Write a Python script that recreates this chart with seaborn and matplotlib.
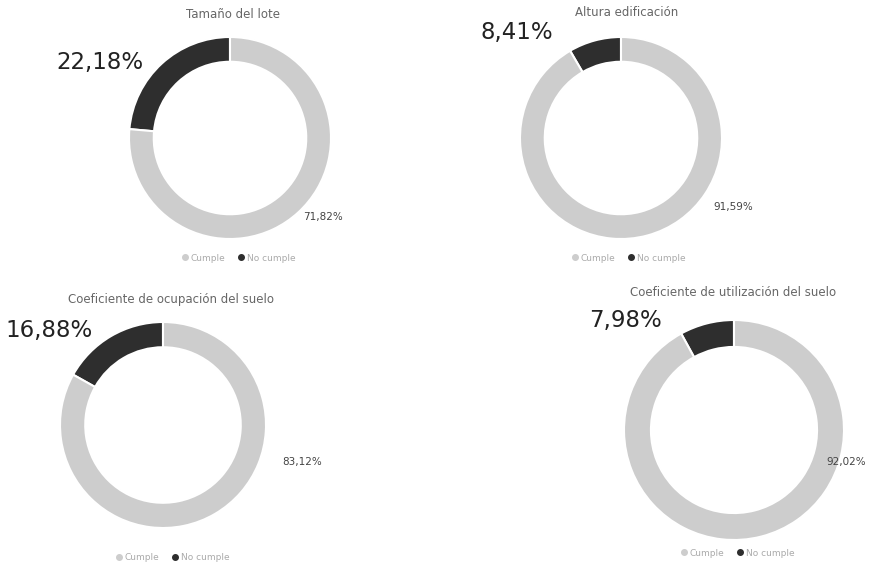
import matplotlib
matplotlib.use("Agg")
import matplotlib.pyplot as plt
from matplotlib.lines import Line2D
import seaborn as sns

# ---- data ----
titles = ["Tamaño del lote", "Altura edificación",
          "Coeficiente de ocupación del suelo", "Coeficiente de utilización del suelo"]
categories = ["Cumple", "No cumple"]
no_cumple = [22.18, 8.41, 16.88, 7.98]
cumple = [71.82, 91.59, 83.12, 92.02]
no_cumple_labels = ["22,18%", "8,41%", "16,88%", "7,98%"]
cumple_labels = ["71,82%", "91,59%", "83,12%", "92,02%"]

# ---- style ----
sns.set_theme(style="white")
plt.rcParams['font.family'] = ['DejaVu Sans']
dark, light = "#2e2e2e", "#cdcdcd"

W, H = 876, 569
fig = plt.figure(figsize=(W / 100, H / 100), dpi=100)
fig.patch.set_facecolor("white")

def fx(x):
    return x / W

def fy(y):
    return 1 - y / H

# layout (pixel positions, from top-left)
centers = [(230, 138), (621, 138), (163, 425), (734, 430)]
radii = [101, 101, 103, 110]
title_pos = [(233, 15), (627, 12), (171, 300), (733, 293)]
big_pos = [(143, 62), (553, 33), (93, 331), (662, 320)]
small_pos = [(343, 217), (753, 207), (322, 462), (866, 462)]
legend_pos = [(238, 258), (628, 258), (172, 558), (737, 553)]

for i in range(4):
    cx, cy = centers[i]
    r = radii[i]
    ax = fig.add_axes([fx(cx - r), (H - cy - r) / H, 2 * r / W, 2 * r / H])
    ax.pie([no_cumple[i], cumple[i]], colors=[dark, light], startangle=90,
           counterclock=True, radius=1,
           wedgeprops=dict(width=0.245, edgecolor="white", linewidth=1.5))
    ax.set_xlim(-1, 1)
    ax.set_ylim(-1, 1)
    ax.set_aspect("equal")
    ax.axis("off")

    fig.text(fx(title_pos[i][0]), fy(title_pos[i][1]), titles[i], ha="center",
             va="center", fontsize=8.5, color="#666666")
    fig.text(fx(big_pos[i][0]), fy(big_pos[i][1]), no_cumple_labels[i], ha="right",
             va="center", fontsize=16.5, color="#222222")
    fig.text(fx(small_pos[i][0]), fy(small_pos[i][1]), cumple_labels[i], ha="right",
             va="center", fontsize=7.5, color="#444444")

    handles = [Line2D([0], [0], marker="o", linestyle="", markersize=4,
                      markerfacecolor=light, markeredgecolor=light),
               Line2D([0], [0], marker="o", linestyle="", markersize=4,
                      markerfacecolor=dark, markeredgecolor=dark)]
    leg = fig.legend(handles, categories, loc="center", ncol=2,
                     bbox_to_anchor=(fx(legend_pos[i][0]), fy(legend_pos[i][1])),
                     frameon=False, fontsize=6.5, handletextpad=0.2,
                     columnspacing=1.2, handlelength=1.0)
    for t in leg.get_texts():
        t.set_color("#aaaaaa")

fig.savefig("out.png", dpi=100)
